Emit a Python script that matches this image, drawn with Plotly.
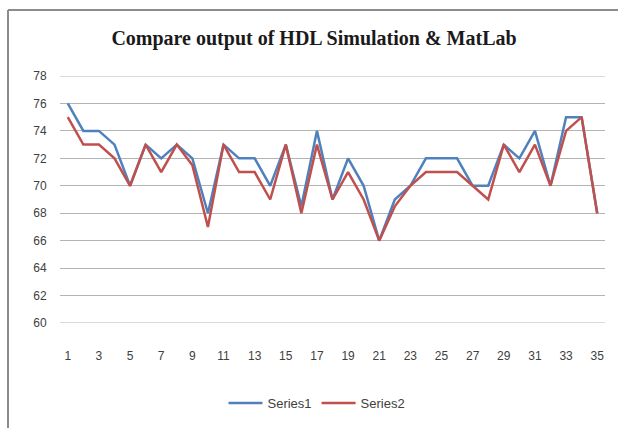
import plotly.graph_objects as go

x_values = list(range(1, 36))
series1 = [76, 74, 74, 73, 70, 73, 72, 73, 72, 68,
           73, 72, 72, 70, 73, 68.5, 74, 69, 72, 70,
           66, 69, 70, 72, 72, 72, 70, 70, 73, 72,
           74, 70, 75, 75, 68]
series2 = [75, 73, 73, 72, 70, 73, 71, 73, 71.5, 67,
           73, 71, 71, 69, 73, 68, 73, 69, 71, 69,
           66, 68.5, 70, 71, 71, 71, 70, 69, 73, 71,
           73, 70, 74, 75, 68]
x_tick_labels = list(range(1, 36, 2))
y_tick_labels = list(range(60, 79, 2))

fig = go.Figure()
fig.add_trace(go.Scatter(x=x_values, y=series1, mode="lines", name="Series1",
                         line=dict(color="#4F81BD", width=2.5)))
fig.add_trace(go.Scatter(x=x_values, y=series2, mode="lines", name="Series2",
                         line=dict(color="#C0504D", width=2.5)))

W, H = 618, 428
L, R, T, B = 60, 13, 76, 105
pw, ph = W - L - R, H - T - B

def px_to_paper_x(px):
    return (px - L) / pw

def px_to_paper_y(py):
    return (H - B - py) / ph

grid_color = "#b4b4b4"
edge_grid = [dict(type="line", xref="paper", yref="y", x0=0, x1=1,
                  y0=v, y1=v, layer="below", line=dict(color=grid_color, width=1))
             for v in (y_tick_labels[0], y_tick_labels[-1])]

fig.update_layout(
    width=W, height=H,
    margin=dict(l=L, r=R, t=T, b=B, autoexpand=False),
    paper_bgcolor="white", plot_bgcolor="white",
    title=dict(text="<b>Compare output of HDL Simulation &amp; MatLab</b>",
               x=px_to_paper_x(314), xanchor="center", xref="paper", y=1 - 38 / H, yanchor="middle",
               font=dict(family="Liberation Serif", size=20, color="#1a1a1a")),
    showlegend=True,
    legend=dict(orientation="h", x=px_to_paper_x(317), xanchor="center", xref="paper",
                y=px_to_paper_y(403), yanchor="middle",
                font=dict(family="Liberation Sans", size=13, color="#404040"),
                itemwidth=34, bgcolor="rgba(0,0,0,0)"),
    xaxis=dict(range=[0.5, 35.5], tickvals=x_tick_labels, ticktext=[str(v) for v in x_tick_labels],
               showgrid=False, zeroline=False, showline=False,
               ticks="outside", ticklen=22, tickcolor="rgba(0,0,0,0)",
               tickfont=dict(family="Liberation Sans", size=12, color="#404040")),
    yaxis=dict(range=[60, 78], tickvals=y_tick_labels, ticktext=[str(v) for v in y_tick_labels],
               showgrid=True, gridcolor=grid_color, gridwidth=1, zeroline=False, showline=False,
               ticks="outside", ticklen=10, tickcolor="rgba(0,0,0,0)",
               tickfont=dict(family="Liberation Sans", size=12, color="#404040")),
    shapes=edge_grid + [
        dict(type="line", xref="paper", yref="paper",
             x0=px_to_paper_x(8), x1=px_to_paper_x(640), y0=px_to_paper_y(10), y1=px_to_paper_y(10),
             line=dict(color="#8c8c8c", width=2)),
        dict(type="line", xref="paper", yref="paper",
             x0=px_to_paper_x(8), x1=px_to_paper_x(8), y0=px_to_paper_y(10), y1=px_to_paper_y(460),
             line=dict(color="#8c8c8c", width=2)),
    ],
)

fig.write_html("out.html", config={"displayModeBar": False},
               post_script="document.body.style.margin='0';document.body.style.overflow='hidden';")
